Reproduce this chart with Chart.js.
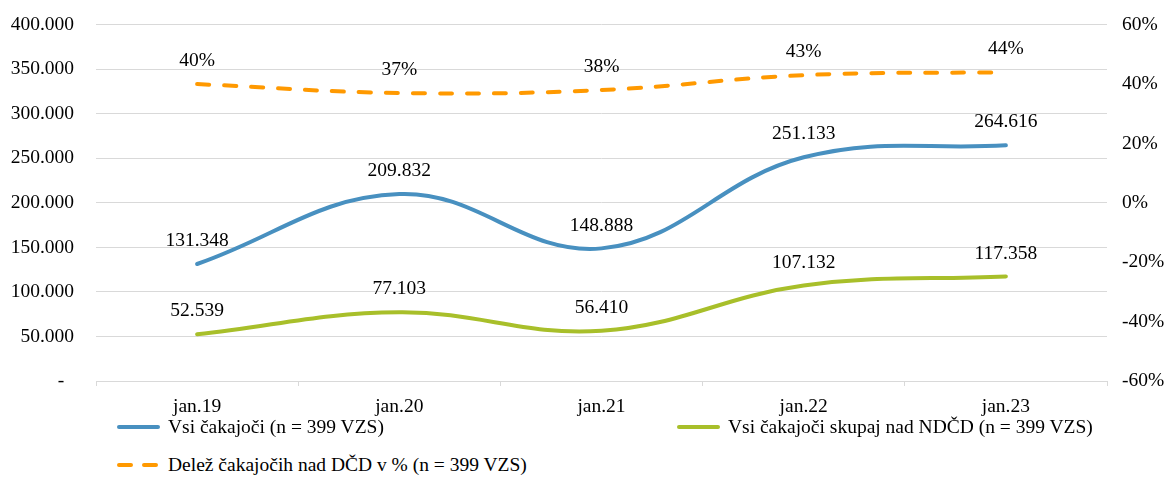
<!DOCTYPE html>
<html>
<head>
<meta charset="utf-8">
<script src="https://cdn.jsdelivr.net/npm/chart.js@4"></script>
<style>
  body { margin: 0; background: #fff; font-family: "Liberation Serif", Tinos, "DejaVu Serif", serif; }
  #wrap { position: relative; width: 1171px; height: 503px; overflow: hidden; }
  #chart { position: absolute; left: 0; top: -9px; }
  .leg { position: absolute; display: flex; align-items: center; font-size: 19.5px; color: #000; white-space: nowrap; }
  .leg svg { margin-right: 8px; }
</style>
</head>
<body>
<div id="wrap">
  <canvas id="chart" width="1171" height="429"></canvas>
  <div id="legend"></div>
</div>
<script>
const categories = ['jan.19', 'jan.20', 'jan.21', 'jan.22', 'jan.23'];
const allWaiting = [131348, 209832, 148888, 251133, 264616];
const waitingOverLimit = [52539, 77103, 56410, 107132, 117358];
const shareOverLimit = [40, 37, 38, 43, 44];

const seriesNames = [
  'Vsi čakajoči (n = 399 VZS)',
  'Vsi čakajoči skupaj nad NDČD (n = 399 VZS)',
  'Delež čakajočih nad DČD v % (n = 399 VZS)',
];

const BLUE = '#4890c0';
const GREEN = '#a8bf2a';
const ORANGE = '#ff9900';
const GRID = '#d9d9d9';
const FONT = { family: '"Liberation Serif", Tinos, "DejaVu Serif", serif', size: 19.5 };

function fmtThousands(v) {
  return String(Math.round(v)).replace(/\B(?=(\d{3})+(?!\d))/g, '.');
}

// value labels above each point
const valueLabels = {
  id: 'valueLabels',
  afterDatasetsDraw(chart) {
    const ctx = chart.ctx;
    ctx.save();
    ctx.font = `${FONT.size}px ${FONT.family}`;
    ctx.fillStyle = '#000';
    ctx.textAlign = 'center';
    ctx.textBaseline = 'middle';
    chart.data.datasets.forEach((ds, i) => {
      const meta = chart.getDatasetMeta(i);
      meta.data.forEach((pt, j) => {
        const v = ds.data[j];
        const txt = ds.yAxisID === 'y2' ? v + '%' : fmtThousands(v);
        ctx.fillText(txt, pt.x, pt.y - 23);
      });
    });
    ctx.restore();
  }
};

new Chart(document.getElementById('chart'), {
  type: 'line',
  data: {
    labels: categories,
    datasets: [
      { label: seriesNames[0], data: allWaiting, borderColor: BLUE, borderWidth: 4, yAxisID: 'y' },
      { label: seriesNames[1], data: waitingOverLimit, borderColor: GREEN, borderWidth: 4, yAxisID: 'y' },
      { label: seriesNames[2], data: shareOverLimit, borderColor: ORANGE, borderWidth: 4,
        borderDash: [12, 15], borderCapStyle: 'round', yAxisID: 'y2' },
    ],
  },
  options: {
    responsive: false,
    animation: false,
    layout: { padding: { top: 0, left: 0, right: 0, bottom: 0 } },
    elements: {
      point: { radius: 0, hoverRadius: 0 },
      line: { tension: 0.4, borderCapStyle: 'round', fill: false },
    },
    plugins: { legend: { display: false }, tooltip: { enabled: false } },
    scales: {
      x: {
        offset: true,
        grid: { offset: true, drawOnChartArea: false, drawTicks: true, tickLength: 5, color: GRID },
        border: { display: true, color: GRID, width: 1 },
        ticks: { color: '#000', font: FONT, padding: 9, maxRotation: 0 },
        afterFit: s => { s.height = 39; },
      },
      y: {
        position: 'left',
        min: 0, max: 400000,
        grid: { color: GRID, drawTicks: false },
        border: { display: false },
        ticks: {
          stepSize: 50000, color: '#000', font: FONT, padding: 22,
          callback: v => v === 0 ? '-  ' : fmtThousands(v),
        },
        afterFit: s => { s.width = 96; },
      },
      y2: {
        position: 'right',
        min: -60, max: 60,
        grid: { drawOnChartArea: false, drawTicks: false },
        border: { display: false },
        ticks: { stepSize: 20, color: '#000', font: FONT, padding: 15, callback: v => v + '%' },
        afterFit: s => { s.width = 64; },
      },
    },
  },
  plugins: [valueLabels],
});

// legend laid out like the original (two columns, wrap)
const legendItems = [
  { name: seriesNames[0], color: BLUE, dash: false, left: 117, top: 427 },
  { name: seriesNames[1], color: GREEN, dash: false, left: 677, top: 427 },
  { name: seriesNames[2], color: ORANGE, dash: true, left: 117, top: 465 },
];
document.getElementById('legend').innerHTML = legendItems.map(it => `
  <div class="leg" style="left:${it.left}px; top:${it.top - 13}px; height:26px">
    <svg width="43" height="6"><line x1="2" y1="3" x2="41" y2="3" stroke="${it.color}" stroke-width="4"
      ${it.dash ? 'stroke-dasharray="12 13"' : ''} stroke-linecap="round"/></svg>
    <span>${it.name}</span>
  </div>`).join('');
</script>
</body>
</html>
